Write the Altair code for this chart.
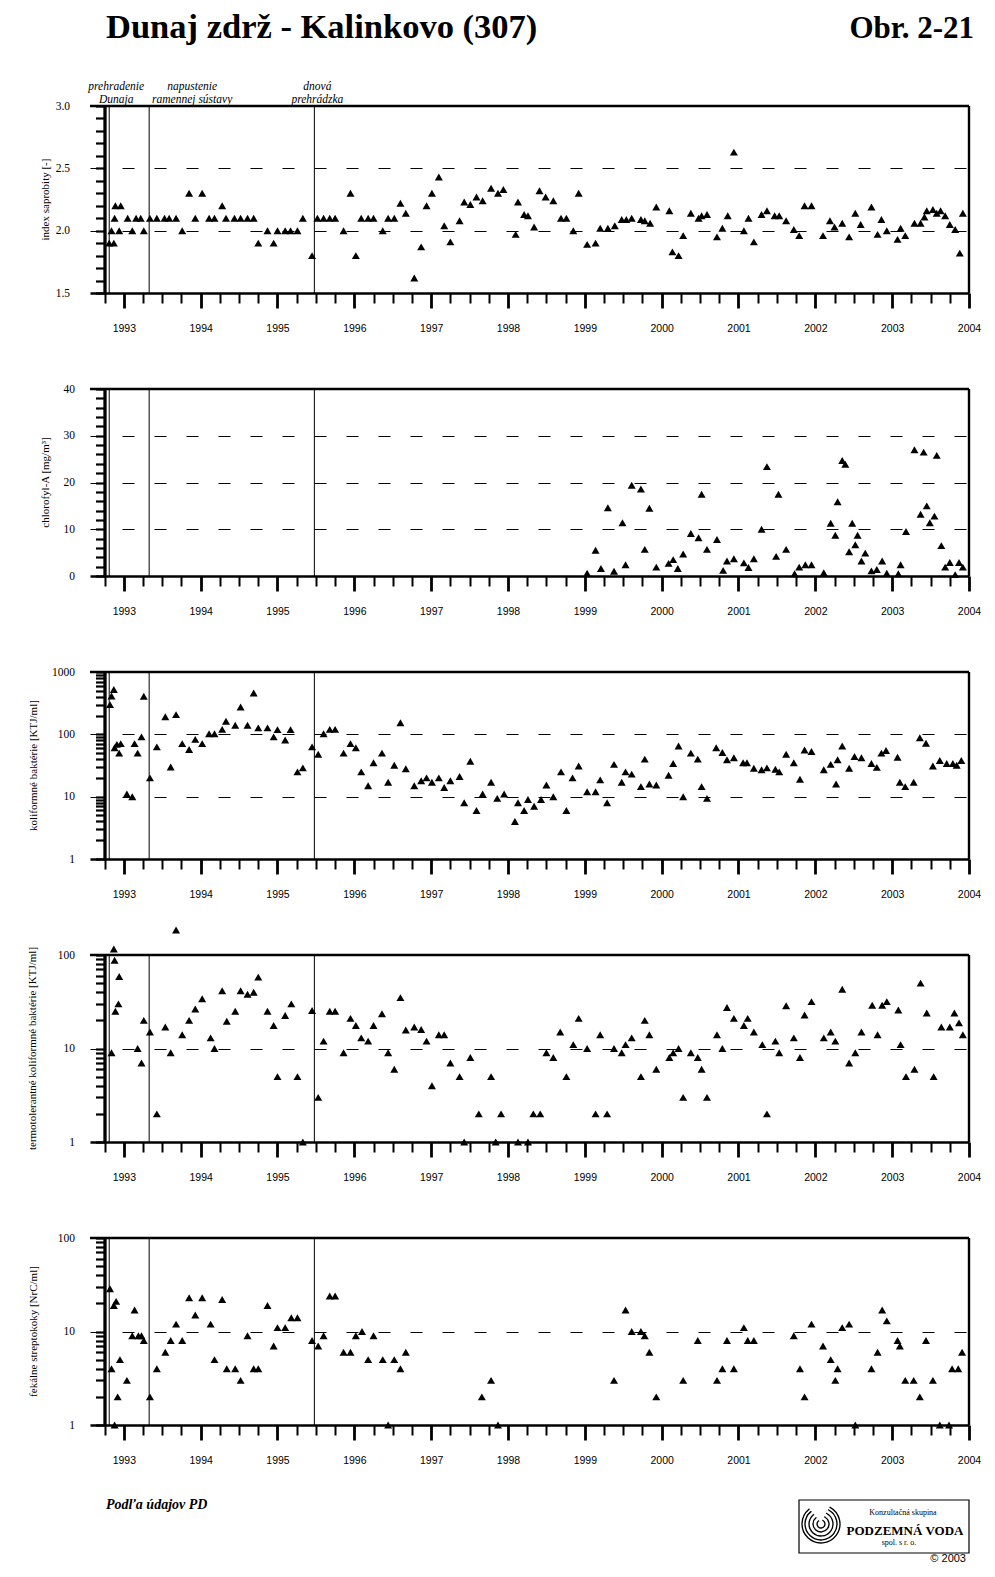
import altair as alt
import pandas as pd

# ------------------------------------------------------------------ data
event_years = [1992.81, 1993.33, 1995.48]
event_top = ["prehradenie", "napustenie", "dnová"]
event_bottom = ["Dunaja", "ramennej sústavy", "prehrádzka"]

sap_year = [1992.81, 1992.87, 1992.84, 1992.88, 1992.89, 1992.96, 1992.94,
            1993.05, 1993.11, 1993.16, 1993.22, 1993.26, 1993.34, 1993.43, 1993.53, 1993.59, 1993.68, 1993.76, 1993.85, 1993.93,
            1994.02, 1994.11, 1994.18, 1994.28, 1994.33, 1994.44, 1994.52, 1994.61, 1994.69, 1994.75, 1994.87, 1994.95,
            1995.00, 1995.10, 1995.17, 1995.26, 1995.33, 1995.45, 1995.52, 1995.60, 1995.68, 1995.75, 1995.86, 1995.95,
            1996.02, 1996.09, 1996.18, 1996.25, 1996.37, 1996.44, 1996.52, 1996.60, 1996.67, 1996.78, 1996.87, 1996.94,
            1997.01, 1997.10, 1997.17, 1997.25, 1997.37, 1997.43, 1997.51, 1997.59, 1997.67, 1997.78, 1997.87,
            1997.94, 1998.10, 1998.13, 1998.21, 1998.26, 1998.34, 1998.41, 1998.49, 1998.59, 1998.69, 1998.76, 1998.85, 1998.92,
            1999.03, 1999.14, 1999.20, 1999.30, 1999.39, 1999.48, 1999.54, 1999.61, 1999.73, 1999.78, 1999.85, 1999.93,
            2000.10, 2000.14, 2000.22, 2000.28, 2000.38, 2000.48, 2000.52, 2000.59, 2000.72, 2000.79, 2000.86, 2000.94,
            2001.07, 2001.13, 2001.20, 2001.30, 2001.37, 2001.47, 2001.53, 2001.62, 2001.72, 2001.79, 2001.86, 2001.95,
            2002.10, 2002.19, 2002.25, 2002.35, 2002.44, 2002.52, 2002.59, 2002.73, 2002.81, 2002.86, 2002.93,
            2003.07, 2003.11, 2003.17, 2003.29, 2003.37, 2003.42, 2003.45, 2003.53, 2003.58, 2003.63, 2003.69, 2003.75,
            2003.82, 2003.88, 2003.92]
sap_val = [1.9, 1.9, 2.0, 2.1, 2.2, 2.2, 2.0,
           2.1, 2.0, 2.1, 2.1, 2.0, 2.1, 2.1, 2.1, 2.1, 2.1, 2.0, 2.3, 2.1,
           2.3, 2.1, 2.1, 2.2, 2.1, 2.1, 2.1, 2.1, 2.1, 1.9, 2.0, 1.9,
           2.0, 2.0, 2.0, 2.0, 2.1, 1.8, 2.1, 2.1, 2.1, 2.1, 2.0, 2.3,
           1.8, 2.1, 2.1, 2.1, 2.0, 2.1, 2.1, 2.22, 2.14, 1.62, 1.87, 2.2,
           2.3, 2.43, 2.04, 1.91, 2.08, 2.23, 2.21, 2.27, 2.24, 2.34, 2.3,
           2.33, 1.97, 2.23, 2.13, 2.12, 2.03, 2.32, 2.27, 2.24, 2.1, 2.1, 2.0, 2.3,
           1.89, 1.9, 2.02, 2.02, 2.04, 2.09, 2.09, 2.1, 2.09, 2.08, 2.06, 2.19,
           2.16, 1.83, 1.8, 1.96, 2.14, 2.1, 2.12, 2.13, 1.95, 2.02, 2.12, 2.63,
           2.0, 2.1, 1.91, 2.13, 2.16, 2.12, 2.12, 2.08, 2.01, 1.96, 2.2, 2.2,
           1.96, 2.08, 2.03, 2.06, 1.95, 2.14, 2.05, 2.19, 1.97, 2.09, 2.0,
           1.93, 2.02, 1.96, 2.06, 2.06, 2.11, 2.16, 2.17, 2.14, 2.16, 2.12, 2.05,
           2.01, 1.82, 2.14]

chl_year = [1999.03, 1999.14, 1999.21, 1999.30, 1999.38, 1999.49, 1999.53, 1999.61, 1999.73, 1999.78, 1999.84, 1999.93,
            2000.09, 2000.15, 2000.21, 2000.28, 2000.38, 2000.48, 2000.52, 2000.59, 2000.72, 2000.80, 2000.85, 2000.94,
            2001.07, 2001.13, 2001.20, 2001.30, 2001.37, 2001.49, 2001.52, 2001.62, 2001.73, 2001.79, 2001.87, 2001.95,
            2002.11, 2002.20, 2002.26, 2002.29, 2002.35, 2002.39, 2002.44, 2002.48, 2002.52, 2002.55, 2002.60, 2002.65,
            2002.73, 2002.80, 2002.87, 2002.93,
            2003.08, 2003.11, 2003.18, 2003.29, 2003.37, 2003.41, 2003.45, 2003.49, 2003.55, 2003.58, 2003.64, 2003.69,
            2003.75, 2003.82, 2003.87, 2003.92]
chl_val = [0.6, 5.5, 1.6, 14.6, 1.0, 11.4, 2.4, 19.4, 18.6, 5.7, 14.5, 1.9,
           2.7, 3.5, 1.6, 4.7, 9.1, 8.2, 17.5, 5.7, 7.8, 1.2, 3.2, 3.7,
           2.8, 1.8, 3.7, 10.0, 23.4, 4.2, 17.5, 5.7, 0.5, 1.9, 2.4, 2.4,
           0.7, 11.3, 8.7, 15.9, 24.7, 23.9, 5.2, 11.3, 6.7, 8.7, 3.2, 4.9, 1.1, 1.4, 3.2, 0.6,
           0.5, 2.4, 9.5, 27.0, 13.2, 26.5, 15.0, 11.4, 12.8, 25.8, 6.5, 1.9, 2.9, 0.3, 2.9, 1.9]

kol_year = [1992.82, 1992.84, 1992.87, 1992.88, 1992.91, 1992.94, 1992.96,
            1993.04, 1993.11, 1993.14, 1993.18, 1993.23, 1993.26, 1993.34, 1993.43, 1993.54, 1993.61, 1993.68, 1993.76, 1993.85, 1993.93,
            1994.02, 1994.11, 1994.18, 1994.28, 1994.33, 1994.45, 1994.52, 1994.61, 1994.69, 1994.75, 1994.87, 1994.95,
            1995.00, 1995.10, 1995.17, 1995.26, 1995.33, 1995.45, 1995.53, 1995.60, 1995.68, 1995.75, 1995.86, 1995.95,
            1996.02, 1996.09, 1996.18, 1996.25, 1996.36, 1996.44, 1996.52, 1996.60, 1996.67, 1996.78, 1996.87, 1996.94,
            1997.01, 1997.10, 1997.17, 1997.25, 1997.37, 1997.43, 1997.51, 1997.59, 1997.67, 1997.78, 1997.86, 1997.95,
            1998.09, 1998.13, 1998.21, 1998.26, 1998.34, 1998.43, 1998.50, 1998.59, 1998.69, 1998.76, 1998.84, 1998.92,
            1999.03, 1999.14, 1999.20, 1999.29, 1999.38, 1999.48, 1999.53, 1999.61, 1999.73, 1999.78, 1999.84, 1999.93,
            2000.09, 2000.15, 2000.22, 2000.28, 2000.38, 2000.47, 2000.52, 2000.59, 2000.71, 2000.79, 2000.85, 2000.94,
            2001.06, 2001.11, 2001.20, 2001.30, 2001.37, 2001.48, 2001.53, 2001.62, 2001.72, 2001.80, 2001.86, 2001.95,
            2002.11, 2002.20, 2002.27, 2002.29, 2002.35, 2002.44, 2002.51, 2002.60, 2002.73, 2002.80, 2002.86, 2002.92,
            2003.07, 2003.10, 2003.17, 2003.28, 2003.36, 2003.44, 2003.53, 2003.62, 2003.71, 2003.79, 2003.84, 2003.90]
kol_val = [300, 413, 525, 61, 69, 50, 71,
           11, 10, 71, 50, 91, 408, 20, 63, 191, 30, 207, 71, 57, 83,
           71, 102, 102, 120, 162, 140, 275, 140, 461, 127, 127, 91,
           119, 81, 119, 25, 29, 63, 48, 102, 120, 120, 50, 71,
           61, 25, 15, 35, 50, 17, 32, 153, 28, 15, 18, 20,
           17, 20, 14, 18, 21, 8, 37, 6, 11, 17, 9.4, 11,
           4, 8, 6, 9, 7, 9, 15.4, 10, 25, 6, 20, 31,
           12, 12, 18.6, 8, 33, 17, 25, 23, 14.5, 40, 16, 15.4,
           22, 34, 65, 10, 50, 40, 14.5, 9.4, 61, 51, 39, 42,
           35, 35, 28.5, 27, 29, 27.5, 25, 48, 35, 19, 56, 53,
           27, 33, 16, 39, 65, 28.5, 44, 42, 34, 29.5, 50, 55,
           43, 17, 14.5, 17, 88, 72, 31, 38, 34, 34, 32, 38]

tkol_year = [1992.84, 1992.87, 1992.88, 1992.89, 1992.93, 1992.94,
             1993.18, 1993.23, 1993.26, 1993.34, 1993.43, 1993.54, 1993.61, 1993.68, 1993.76, 1993.85, 1993.93,
             1994.02, 1994.13, 1994.18, 1994.28, 1994.34, 1994.45, 1994.52, 1994.61, 1994.69, 1994.75, 1994.87, 1994.95,
             1995.00, 1995.10, 1995.18, 1995.26, 1995.33, 1995.45, 1995.53, 1995.60, 1995.68, 1995.75, 1995.86, 1995.95,
             1996.02, 1996.09, 1996.18, 1996.25, 1996.36, 1996.44, 1996.52, 1996.60, 1996.67, 1996.78, 1996.87, 1996.94,
             1997.01, 1997.10, 1997.17, 1997.25, 1997.37, 1997.43, 1997.51, 1997.62, 1997.78, 1997.84, 1997.91,
             1998.13, 1998.26, 1998.33, 1998.42, 1998.50, 1998.59, 1998.68, 1998.76, 1998.85, 1998.92,
             1999.03, 1999.14, 1999.20, 1999.29, 1999.38, 1999.48, 1999.53, 1999.61, 1999.73, 1999.78, 1999.84, 1999.93,
             2000.10, 2000.15, 2000.22, 2000.28, 2000.38, 2000.47, 2000.52, 2000.59, 2000.72, 2000.79, 2000.85, 2000.94,
             2001.07, 2001.12, 2001.20, 2001.31, 2001.37, 2001.48, 2001.53, 2001.62, 2001.72, 2001.80, 2001.86, 2001.95,
             2002.11, 2002.20, 2002.26, 2002.35, 2002.44, 2002.52, 2002.60, 2002.74, 2002.81, 2002.87, 2002.93,
             2003.08, 2003.11, 2003.18, 2003.29, 2003.37, 2003.45, 2003.54, 2003.64, 2003.75, 2003.81, 2003.87, 2003.92]
tkol_val = [9, 116, 88, 25, 30, 59,
            10, 7, 20, 15, 2, 17, 9, 185, 14, 20, 26.5,
            34, 13, 10, 41.5, 19.6, 25, 41.5, 38, 40, 58, 25, 17.6,
            5, 22.5, 30, 5, 1, 25.5, 3, 12, 25, 25, 9, 21,
            17.6, 13, 12, 17.6, 23.5, 9, 6, 35, 15.8, 17, 16, 12,
            4, 14, 14, 7, 5, 1, 8, 2, 5, 1, 2,
            1, 1, 2, 2, 9, 8, 15, 5, 11, 21,
            10, 2, 14, 2, 10, 9, 11, 13, 5, 20, 14, 6,
            8, 9, 10, 3, 9, 8, 6, 3, 14, 10, 27.5, 21,
            17.6, 21, 15, 11, 2, 12, 9, 28.7, 13, 8, 22.8, 31.7,
            13, 15, 12, 43, 7, 9, 15, 29, 14, 29, 31.7,
            25.8, 11, 5, 6, 50, 24, 5, 17, 17, 24, 18.8, 14]

fstr_year = [1992.82, 1992.84, 1992.87, 1992.88, 1992.90, 1992.92, 1992.95,
             1993.04, 1993.11, 1993.14, 1993.19, 1993.23, 1993.26, 1993.34, 1993.43, 1993.54, 1993.61, 1993.68, 1993.76, 1993.85, 1993.93,
             1994.02, 1994.13, 1994.18, 1994.28, 1994.34, 1994.45, 1994.52, 1994.61, 1994.69, 1994.75, 1994.87, 1994.95,
             1995.00, 1995.10, 1995.18, 1995.26, 1995.45, 1995.53, 1995.60, 1995.68, 1995.75, 1995.86, 1995.95,
             1996.02, 1996.10, 1996.18, 1996.25, 1996.37, 1996.44, 1996.52, 1996.60, 1996.67,
             1997.66, 1997.78, 1997.87,
             1999.38, 1999.53, 1999.61, 1999.73, 1999.78, 1999.84, 1999.93,
             2000.28, 2000.47, 2000.72, 2000.79, 2000.85, 2000.94,
             2001.07, 2001.12, 2001.20, 2001.72, 2001.80, 2001.86, 2001.95,
             2002.10, 2002.20, 2002.26, 2002.29, 2002.35, 2002.44, 2002.52, 2002.73, 2002.81, 2002.87, 2002.93,
             2003.07, 2003.10, 2003.17, 2003.28, 2003.36, 2003.44, 2003.53, 2003.62, 2003.74, 2003.78, 2003.86, 2003.91]
fstr_val = [28.6, 4, 19, 1, 21, 2, 5,
            3, 9, 17, 9, 9, 8, 2, 4, 6, 8, 12, 8, 23, 15,
            23, 12, 5, 22, 4, 4, 3, 9, 4, 4, 19, 7,
            11, 11, 14, 14, 8, 7, 9, 24, 24, 6, 6,
            9, 10, 5, 9, 5, 1, 5, 4, 6,
            2, 3, 1,
            3, 17, 10, 10, 9, 6, 2,
            3, 8, 3, 4, 8, 4,
            11, 8, 8, 9, 4, 2, 12,
            7, 5, 3, 4, 11, 12, 1, 4, 6, 17, 13,
            8, 7, 3, 3, 2, 8, 3, 1, 1, 4, 4, 6]

year_ticks = [1992.75 + 0.25 * i for i in range(46)]
sap_ticks = [1.5, 1.6, 1.7, 1.8, 1.9, 2.0, 2.1, 2.2, 2.3, 2.4, 2.5, 2.6, 2.7, 2.8, 2.9, 3.0]
chl_ticks = [0, 2, 4, 6, 8, 10, 12, 14, 16, 18, 20, 22, 24, 26, 28, 30, 32, 34, 36, 38, 40]
log1000_ticks = [1, 2, 3, 4, 5, 6, 7, 8, 9, 10, 20, 30, 40, 50, 60, 70, 80, 90,
                 100, 200, 300, 400, 500, 600, 700, 800, 900, 1000]
log100_ticks = [1, 2, 3, 4, 5, 6, 7, 8, 9, 10, 20, 30, 40, 50, 60, 70, 80, 90, 100]

# ------------------------------------------------------------------ style
SERIF = "Liberation Serif"
SANS = "Liberation Sans"
W, H = 879, 187
XS = alt.Scale(domain=[1992.56, 2004.0], nice=False, zero=False)
MAJOR = "datum.value % 1 == 0"

one = pd.DataFrame({"k": [0]})
ev_df = pd.DataFrame({"year": event_years})

x_axis = alt.Axis(
    values=year_ticks, title=None, grid=False,
    labelExpr=f"{MAJOR} ? format(datum.value, 'd') : ''",
    tickSize={"condition": {"test": MAJOR, "value": 15}, "value": 10},
    tickWidth={"condition": {"test": MAJOR, "value": 2.8}, "value": 2},
    tickColor="black", domainColor="black", domainWidth=2.4,
    labelColor="black", labelFont=SANS, labelFontSize=10.5, labelPadding=15,
    labelFlush=False, labelOverlap=False,
)
X = alt.X("year:Q", scale=XS, axis=x_axis)


def y_axis(values, label_test, fmt, grid_test, pad):
    return alt.Axis(
        values=values, title=None, offset=-14.5,
        labelExpr=f"({label_test}) ? format(datum.value, '{fmt}') : ''",
        tickSize=9, tickWidth=2.2, tickColor="black",
        domainColor="black", domainWidth=3.3,
        labelColor="black", labelFont=SERIF, labelFontSize=11.5, labelPadding=pad,
        labelFlush=False, labelOverlap=False,
        grid=True, gridColor="black", gridWidth=1, gridDash=[12, 20],
        gridOpacity={"condition": {"test": grid_test, "value": 1}, "value": 0},
    )


def txt(s, x, y, size=11, weight="normal", style="normal", align="center",
        baseline="middle", font=SERIF, angle=0):
    return alt.Chart(one).mark_text(
        font=font, fontSize=size, fontWeight=weight, fontStyle=style,
        align=align, baseline=baseline, angle=angle, color="black",
    ).encode(x=alt.value(x), y=alt.value(y), text=alt.value(s))


def panel(years, vals, yscale, yaxis, ytitle, title_x, extras=()):
    df = pd.DataFrame({"year": years, "val": vals})
    pts = alt.Chart(df).mark_point(
        shape="triangle-up", filled=True, size=64, color="black", opacity=1
    ).encode(x=X, y=alt.Y("val:Q", scale=yscale, axis=yaxis))
    ev = alt.Chart(ev_df).mark_rule(color="black", strokeWidth=1).encode(
        x=X, y=alt.value(0), y2=alt.value(H))
    top = alt.Chart(one).mark_rule(color="black", strokeWidth=2.4).encode(
        x=alt.value(0), x2=alt.value(W), y=alt.value(0))
    right = alt.Chart(one).mark_rule(color="black", strokeWidth=2.4).encode(
        x=alt.value(W), y=alt.value(0), y2=alt.value(H))
    yt = txt(ytitle, title_x, H / 2, size=11, angle=270)
    return alt.layer(pts, ev, top, right, yt, *extras).properties(width=W, height=H)


# ---- panel 1 extras: title, annotations, layout anchor
anchor = alt.Chart(one).mark_rule(strokeWidth=0.001, opacity=0).encode(
    x=alt.value(-81), x2=alt.value(-80), y=alt.value(-97))
title_l = txt("Dunaj zdrž - Kalinkovo (307)", 16, -68, size=34.5, weight="bold",
              align="left", baseline="alphabetic")
title_r = txt("Obr. 2-21", 884, -68, size=31, weight="bold",
              align="right", baseline="alphabetic")
ann_dx = [7, 43, 3]
ann = []
for i, yv in enumerate(event_years):
    d = pd.DataFrame({"year": [yv], "t": [event_top[i]], "b": [event_bottom[i]]})
    ann.append(alt.Chart(d).mark_text(font=SERIF, fontSize=11.5, fontStyle="italic",
                                      align="center", baseline="middle", dx=ann_dx[i],
                                      color="black")
               .encode(x=X, y=alt.value(-19), text="t:N"))
    ann.append(alt.Chart(d).mark_text(font=SERIF, fontSize=11.5, fontStyle="italic",
                                      align="center", baseline="middle", dx=ann_dx[i],
                                      color="black")
               .encode(x=X, y=alt.value(-6.5), text="b:N"))

# ---- panel 5 extras: footer and logo
foot = [txt("Podľa údajov PD", 16, 267, size=14, weight="bold", style="italic", align="left")]
foot.append(alt.Chart(one).mark_rect(fill="white", stroke="black", strokeWidth=1.2).encode(
    x=alt.value(709), x2=alt.value(879), y=alt.value(262), y2=alt.value(315)))
foot.append(txt("Konzultačná skupina", 813, 275, size=8))
foot.append(txt("PODZEMNÁ VODA", 815, 293, size=13, weight="bold"))
foot.append(txt("spol. s r. o.", 809, 305, size=8))
foot.append(txt("© 2003", 876, 321, size=11, font=SANS, align="right"))
for r in [4, 8, 12, 16, 19]:
    foot.append(alt.Chart(one).mark_arc(filled=False, color="black", strokeWidth=1.3).encode(
        x=alt.value(731), y=alt.value(286), radius=alt.value(r), radius2=alt.value(r - 0.05),
        theta=alt.value(0.5), theta2=alt.value(5.6)))

# ------------------------------------------------------------------ panels
p1 = panel(sap_year, sap_val,
           alt.Scale(domain=[1.5, 3.0], nice=False, zero=False),
           y_axis(sap_ticks, "datum.value == 1.5 || datum.value == 2 || datum.value == 2.5 || datum.value == 3",
                  ".1f", "datum.value == 2 || datum.value == 2.5", 26),
           "index saprobity  [-]", -44,
           extras=[anchor, title_l, title_r, *ann])
p2 = panel(chl_year, chl_val,
           alt.Scale(domain=[0, 40], nice=False),
           y_axis(chl_ticks, "datum.value % 10 == 0", "d",
                  "datum.value == 10 || datum.value == 20 || datum.value == 30", 21),
           "chlorofyl-A [mg/m³]", -44)
p3 = panel(kol_year, kol_val,
           alt.Scale(type="log", domain=[1, 1000], nice=False),
           y_axis(log1000_ticks, "indexof([1,10,100,1000], datum.value) >= 0", "d",
                  "datum.value == 10 || datum.value == 100", 21),
           "koliformné baktérie  [KTJ/ml]", -56)
p4 = panel(tkol_year, tkol_val,
           alt.Scale(type="log", domain=[1, 100], nice=False),
           y_axis(log100_ticks, "indexof([1,10,100], datum.value) >= 0", "d",
                  "datum.value == 10", 21),
           "termotolerantné koliformné baktérie [KTJ/ml]", -57)
p5 = panel(fstr_year, fstr_val,
           alt.Scale(type="log", domain=[1, 100], nice=False),
           y_axis(log100_ticks, "indexof([1,10,100], datum.value) >= 0", "d",
                  "datum.value == 10", 21),
           "fekálne streptokoky [NrC/ml]", -56,
           extras=foot)

chart = alt.vconcat(p1, p2, p3, p4, p5, spacing=96, bounds="flush").properties(
    padding=0
).configure_view(stroke="transparent")

chart.save("out.html", embed_options={"renderer": "svg", "actions": False})
